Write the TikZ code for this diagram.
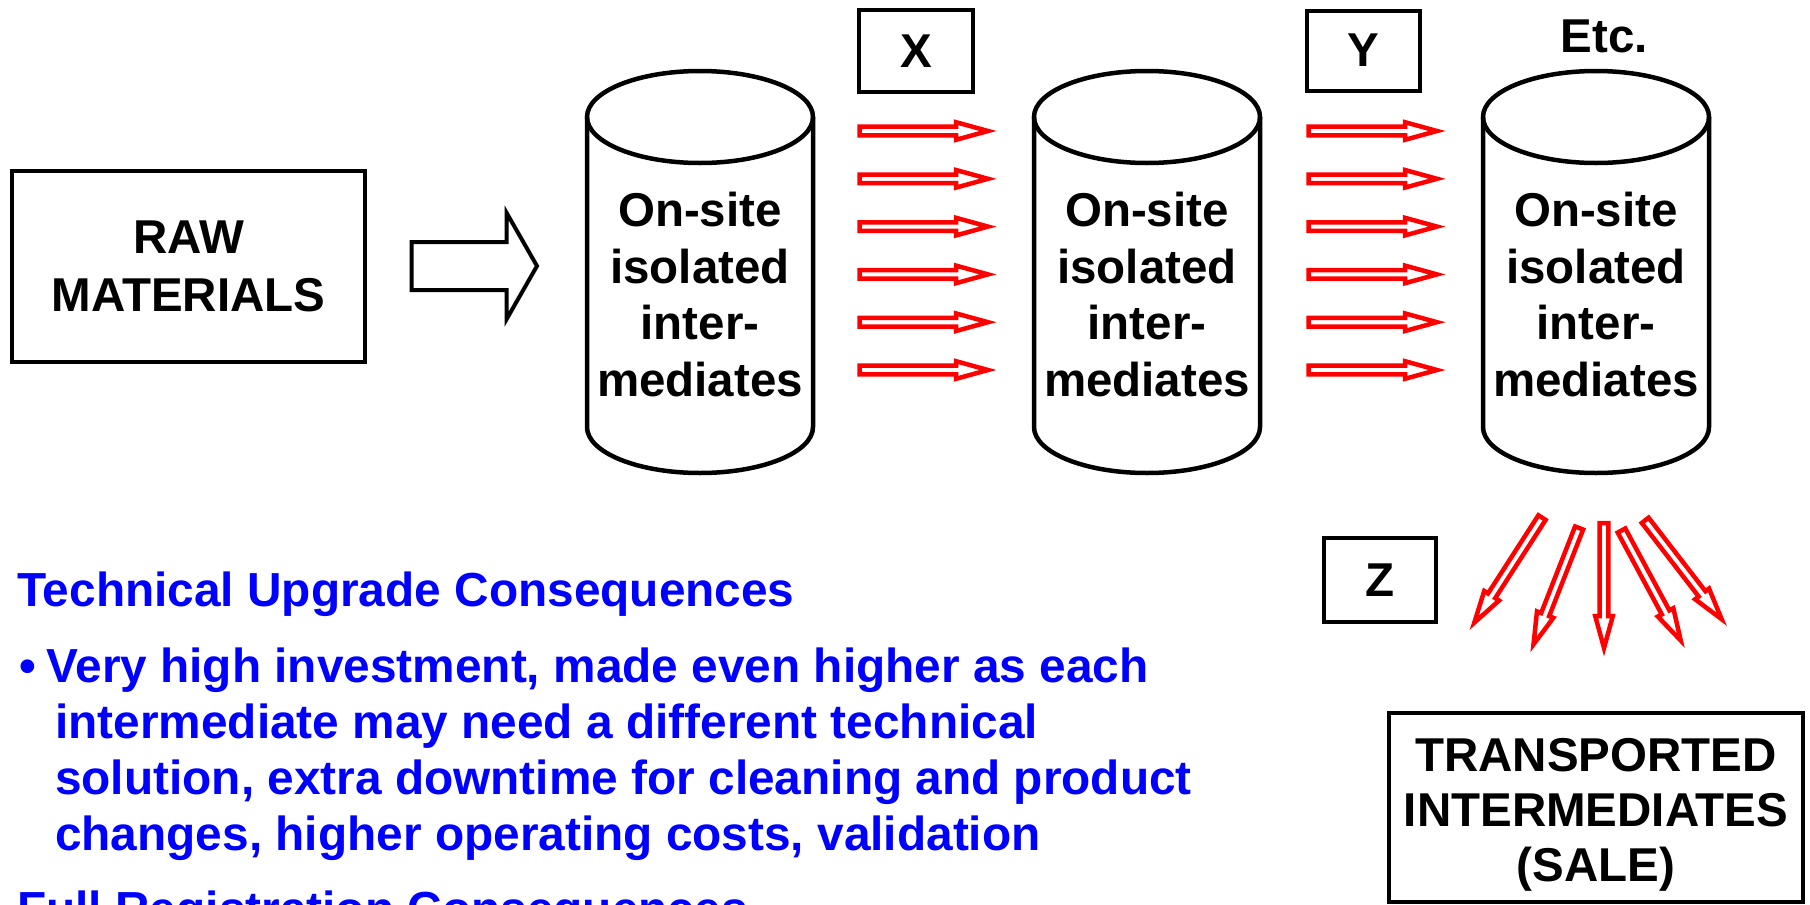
\documentclass[tikz,border=0pt]{standalone}
\usepackage{fontspec}
\setmainfont{Liberation Sans}
\begin{document}
\begin{tikzpicture}[x=1pt,y=-1pt,
  box/.style={draw=black,line width=4pt,inner sep=0pt},
  lbl/.style={font=\fontsize{47.5}{56.7}\selectfont\bfseries,align=center,inner sep=0pt},
  bluetxt/.style={font=\fontsize{47.8}{56}\selectfont\bfseries,text=blue,anchor=base west,inner sep=0pt},
  redarrow/.style={draw=red,line width=4.5pt,line join=miter},
  blockarrow/.style={draw=black,line width=4pt,line join=miter},
  cylline/.style={draw=black,line width=4.5pt},
  pics/hollow/.style={code={
    \draw[redarrow] (0,-4.3) -- (#1-32,-4.3) -- (#1-32,-8.8) -- (#1,0)
      -- (#1-32,8.8) -- (#1-32,4.3) -- (0,4.3) -- cycle;}}
]
\useasboundingbox (0,0) rectangle (1810,905);
\clip (0,0) rectangle (1810,905);

% raw materials
\node[box,lbl,minimum width=353pt,minimum height=191pt,font=\fontsize{47.5}{58}\selectfont\bfseries]
  (raw) at (188.5,266.5) {RAW\\MATERIALS};

% block arrow
\draw[blockarrow] (411.7,242) -- (506.7,242) -- (506.7,213) -- (537,266)
  -- (506.7,319) -- (506.7,290) -- (411.7,290) -- cycle;

% cylinders
\foreach \cx/\nm in {700/c1,1147/c2,1596/c3}{
  \draw[cylline] (\cx,117) ellipse [x radius=113pt,y radius=46pt];
  \draw[cylline] (\cx-113,117) -- (\cx-113,427)
    arc[start angle=180,end angle=360,x radius=113pt,y radius=46pt]
    -- (\cx+113,117);
  \node[lbl] (\nm) at (\cx,294.5) {On-site\\isolated\\inter-\\mediates};
}

\node[font=\fontsize{47.5}{56}\selectfont\bfseries,anchor=base,inner sep=0pt] (etc) at (1604.5,52) {Etc.};

% X Y Z boxes
\node[box,lbl,minimum width=114pt,minimum height=82pt] (X) at (916,51) {X};
\node[box,lbl,minimum width=113pt,minimum height=80pt] (Y) at (1363.5,50.5) {Y};
\node[box,lbl,minimum width=112pt,minimum height=84pt] (Z) at (1380,580) {Z};

% red arrows
\foreach \i in {0,...,5}{
  \pic at (859.5,131+47.8*\i) {hollow=128.5};
  \pic at (1308.5,131+47.8*\i) {hollow=128.5};
}

% fan of arrows
\pic[rotate=-122.8] at (1542,517.6) {hollow=125};
\pic[rotate=-111.4] at (1579.1,528) {hollow=125};
\pic[rotate=-90] at (1604,523) {hollow=125};
\pic[rotate=-61.7] at (1621.5,530.5) {hollow=125};
\pic[rotate=-52.3] at (1645.2,520.3) {hollow=125};

% transported box
\node[box,minimum width=414pt,minimum height=189pt] (sale) at (1596,807.5) {};
\node[lbl,font=\fontsize{47.5}{55}\selectfont\bfseries] (saletxt) at (1596,814.7)
  {TRANSPORTED\\INTERMEDIATES\\(SALE)};

% blue text
\node[bluetxt] (t1) at (17,606) {Technical Upgrade Consequences};
\node[bluetxt] (b1) at (19,682) {•};
\node[bluetxt] (t2) at (46,682) {Very high investment, made even higher as each};
\node[bluetxt] (t3) at (55,738) {intermediate may need a different technical};
\node[bluetxt] (t4) at (55,794) {solution, extra downtime for cleaning and product};
\node[bluetxt] (t5) at (55,850) {changes, higher operating costs, validation};
\node[bluetxt] (t6) at (17,925) {Full Registration Consequences};
\end{tikzpicture}
\end{document}
